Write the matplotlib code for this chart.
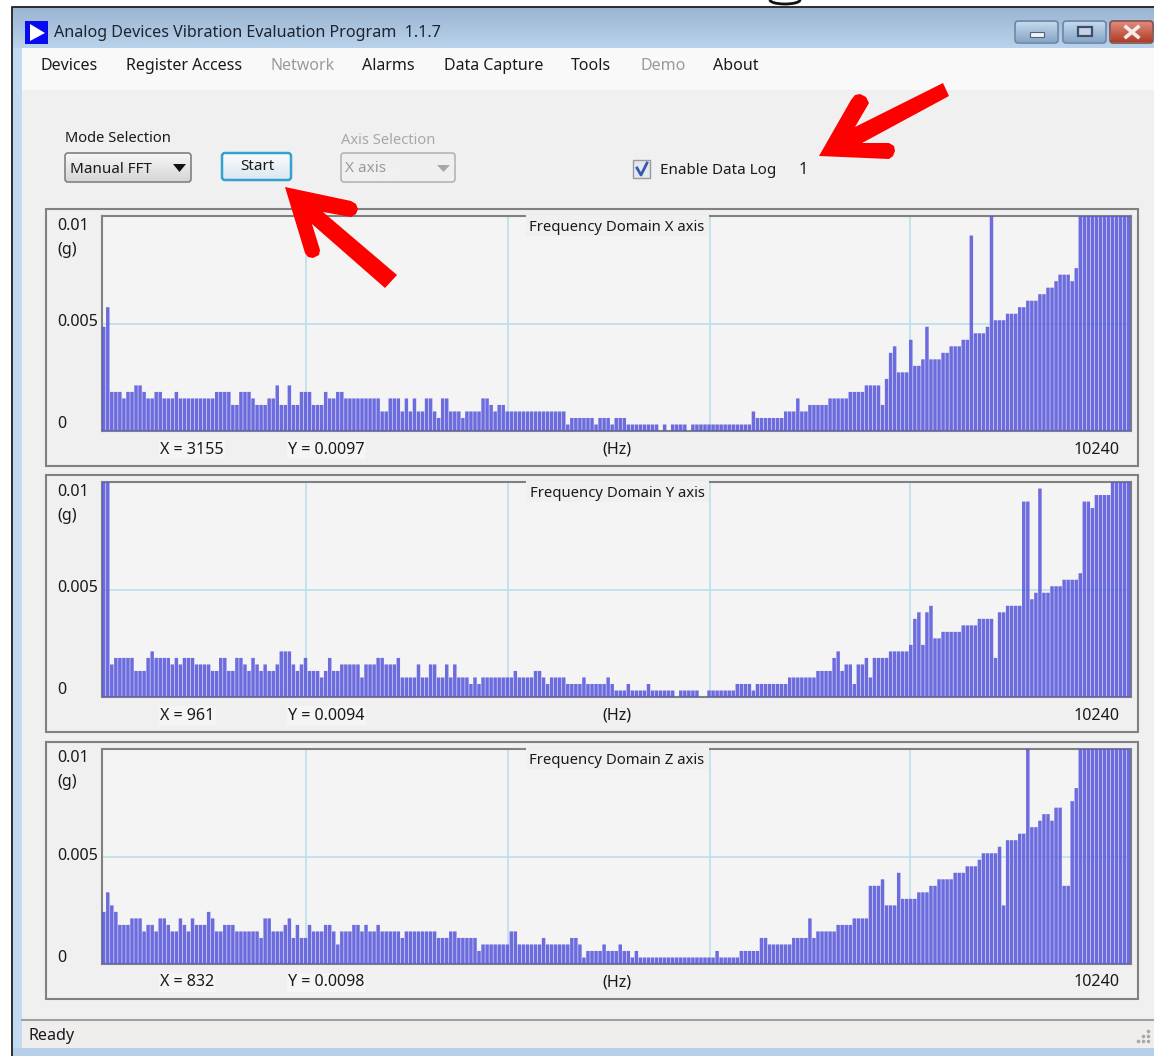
import matplotlib
matplotlib.use("Agg")
import matplotlib.pyplot as plt
from matplotlib.patches import Rectangle, Polygon, FancyBboxPatch, Arc
import numpy as np

plt.rcParams['font.family'] = ['Noto Sans', 'DejaVu Sans']

# FFT magnitude per bin in display codes, 33 codes is where the plot clips at 0.01 g
x_axis_codes = [
    16, 19, 6, 6, 6, 5, 6, 6, 7, 7,
    6, 5, 5, 6, 6, 5, 5, 5, 6, 5,
    5, 5, 5, 5, 5, 5, 5, 5, 6, 6,
    6, 6, 4, 4, 6, 6, 6, 5, 4, 4,
    4, 5, 5, 7, 4, 4, 7, 4, 4, 6,
    6, 6, 4, 4, 4, 6, 5, 5, 6, 6,
    5, 5, 5, 5, 5, 5, 5, 5, 5, 3,
    3, 5, 5, 5, 3, 5, 3, 5, 3, 3,
    5, 5, 3, 2, 5, 5, 3, 3, 3, 2,
    3, 3, 3, 3, 5, 5, 4, 3, 4, 4,
    3, 3, 3, 3, 3, 3, 3, 3, 3, 3,
    3, 3, 3, 3, 3, 1, 2, 2, 2, 2,
    2, 2, 1, 2, 2, 2, 1, 2, 2, 2,
    1, 1, 1, 1, 1, 1, 1, 1, 0, 1,
    0, 1, 1, 1, 1, 0, 1, 1, 1, 1,
    1, 1, 1, 1, 1, 1, 1, 1, 1, 1,
    1, 3, 2, 2, 2, 2, 2, 2, 2, 3,
    3, 3, 5, 3, 3, 4, 4, 4, 4, 4,
    5, 5, 5, 5, 5, 6, 6, 6, 6, 7,
    7, 7, 7, 4, 8, 12, 13, 9, 9, 9,
    14, 10, 10, 11, 16, 11, 11, 11, 12, 12,
    13, 13, 13, 14, 14, 30, 15, 15, 15, 16,
    33, 17, 17, 17, 18, 18, 18, 19, 19, 20,
    20, 20, 21, 21, 22, 22, 23, 24, 24, 24,
    23, 25, 33, 33, 33, 33, 33, 33, 33, 33,
    33, 33, 33, 33, 33]

y_axis_codes = [
    33, 33, 5, 6, 6, 6, 6, 6, 4, 4,
    4, 6, 7, 6, 6, 6, 6, 5, 6, 5,
    6, 6, 6, 5, 5, 5, 5, 4, 4, 6,
    6, 4, 4, 6, 6, 5, 4, 6, 5, 4,
    5, 4, 4, 5, 7, 7, 7, 5, 4, 5,
    6, 4, 4, 4, 3, 4, 6, 4, 4, 5,
    5, 5, 5, 5, 3, 5, 5, 5, 6, 6,
    5, 5, 5, 6, 3, 3, 3, 3, 5, 3,
    3, 5, 5, 3, 3, 5, 3, 5, 3, 3,
    3, 2, 3, 2, 3, 3, 3, 3, 3, 3,
    3, 3, 4, 3, 3, 3, 3, 4, 4, 3,
    2, 3, 3, 3, 3, 2, 2, 2, 2, 3,
    2, 2, 2, 2, 2, 3, 2, 1, 1, 1,
    2, 1, 1, 1, 1, 2, 1, 1, 1, 1,
    1, 1, 0, 1, 1, 1, 1, 1, 0, 0,
    1, 1, 1, 1, 1, 1, 1, 2, 2, 2,
    2, 1, 2, 2, 2, 2, 2, 2, 2, 2,
    3, 3, 3, 3, 3, 3, 3, 4, 4, 4,
    4, 6, 7, 4, 5, 5, 2, 5, 5, 6,
    3, 6, 6, 6, 6, 7, 7, 7, 7, 7,
    8, 12, 13, 8, 13, 14, 9, 9, 10, 10,
    10, 10, 10, 11, 11, 11, 11, 12, 12, 12,
    12, 6, 13, 13, 14, 14, 14, 14, 30, 30,
    15, 16, 32, 16, 16, 17, 17, 17, 18, 18,
    18, 18, 19, 30, 30, 29, 31, 31, 31, 31,
    33, 33, 33, 33, 33]

z_axis_codes = [
    8, 11, 9, 8, 6, 6, 6, 7, 7, 7,
    5, 6, 6, 5, 7, 7, 6, 5, 5, 7,
    6, 5, 7, 6, 6, 6, 8, 7, 5, 5,
    6, 6, 6, 5, 5, 5, 5, 5, 5, 4,
    7, 7, 5, 5, 5, 6, 7, 4, 6, 4,
    4, 6, 5, 5, 5, 6, 6, 5, 3, 5,
    5, 5, 6, 6, 5, 6, 5, 5, 6, 5,
    5, 5, 5, 5, 4, 5, 5, 5, 5, 5,
    5, 5, 5, 4, 4, 4, 5, 5, 4, 4,
    4, 4, 4, 2, 3, 3, 3, 3, 3, 3,
    3, 5, 5, 3, 3, 3, 3, 3, 3, 4,
    3, 3, 3, 3, 3, 3, 4, 4, 3, 1,
    2, 2, 2, 2, 3, 2, 2, 2, 3, 2,
    2, 1, 2, 1, 1, 1, 1, 1, 1, 1,
    1, 1, 1, 1, 1, 1, 1, 1, 1, 1,
    1, 1, 2, 1, 1, 1, 1, 1, 2, 2,
    2, 2, 2, 4, 4, 3, 3, 3, 3, 3,
    3, 4, 4, 4, 4, 7, 4, 5, 5, 5,
    5, 5, 6, 6, 6, 6, 7, 7, 7, 7,
    12, 12, 12, 13, 9, 9, 9, 14, 10, 10,
    10, 10, 11, 11, 11, 12, 12, 13, 13, 13,
    13, 14, 14, 14, 15, 15, 15, 16, 17, 17,
    17, 17, 18, 9, 19, 19, 19, 20, 20, 33,
    21, 21, 22, 23, 23, 22, 24, 24, 12, 12,
    25, 27, 33, 33, 33, 33, 33, 33, 33, 33,
    33, 33, 33, 33, 33]

g_per_code = 0.01 / 33
freq_max = 10240
grid_hz = [2030, 4040, 6050, 8045]
panel_names = ["X", "Y", "Z"]
panel_tops = [209, 475, 742]
readout_x = ["X = 3155", "X = 961", "X = 832"]
readout_y = ["Y = 0.0097", "Y = 0.0094", "Y = 0.0098"]
menu_items = ["Devices", "Register Access", "Network", "Alarms", "Data Capture", "Tools", "Demo", "About"]
menu_x = [41, 126, 270.5, 362.5, 444, 570.5, 640, 713]
menu_disabled = ["Network", "Demo"]

W, H = 1154, 1056
fig = plt.figure(figsize=(W / 100, H / 100), dpi=100, facecolor='white')

# window chrome is drawn on one axes in screen pixels
bg = fig.add_axes([0, 0, 1, 1])
bg.set_axis_off()


def txt(x, y, s, size=11.6, color='#1a1a1a', ha='left', **kw):
    bg.text(x, y + 1.5, s, fontsize=size, color=color, ha=ha, va='center', **kw)


def rect(x0, y0, x1, y1, fc, ec='none', lw=0, z=1):
    bg.add_patch(Rectangle((x0, y0), x1 - x0, y1 - y0, fc=fc, ec=ec, lw=lw, zorder=z))


def gradient(x0, y0, x1, y1, top, bottom, z=1):
    c0 = np.array(matplotlib.colors.to_rgb(top))
    c1 = np.array(matplotlib.colors.to_rgb(bottom))
    t = np.linspace(0, 1, 64)[:, None, None]
    img = c0[None, None, :] * (1 - t) + c1[None, None, :] * t
    bg.imshow(img, extent=(x0, x1, y1, y0), aspect='auto', zorder=z, interpolation='bilinear')


def button(x0, y0, x1, y1, top, bottom, ec, lw=1.2):
    gradient(x0 + 1, y0 + 1, x1 - 1, y1 - 1, top, bottom, z=3)
    bg.add_patch(FancyBboxPatch((x0, y0), x1 - x0, y1 - y0, boxstyle="round,pad=0,rounding_size=3",
                                fc='none', ec=ec, lw=lw, zorder=4))


# frame and title bar
rect(11, 6, W, H, '#b5d0e8')
gradient(13, 7, W, 48, '#9ab4d2', '#b9d3ec')
rect(13, 48, 22, 1048, '#c3dbf0', z=2)
bg.plot([11.5, 11.5, W], [H, 6.5, 6.5], color='#222222', lw=1.3, zorder=5)
rect(22, 48, W, 1048, '#f0f0f0', z=2)
rect(22, 48, W, 90, '#f9f9f9', z=2)
bg.add_patch(Arc((785, 0), 30, 8, theta1=0, theta2=180, color='#111111', lw=2, zorder=6))

# title icon
rect(25, 21, 48, 44, '#0a0af0', z=3)
bg.add_patch(Polygon([(30, 24), (45, 33), (30, 41)], fc='white', zorder=4))
txt(54, 31.5, "Analog Devices Vibration Evaluation Program  1.1.7", size=11.6, color='#20242c', zorder=5)

# caption buttons
button(1015, 21, 1058, 43, '#c4d8ec', '#86a6c8', '#6d86a5')
button(1063, 21, 1106, 43, '#c4d8ec', '#86a6c8', '#6d86a5')
button(1110, 21, 1153, 43, '#dd8a78', '#b03c28', '#8a4a44')
rect(1030, 32, 1044, 37, '#eef3f8', ec='#50627a', lw=0.8, z=6)
rect(1078, 27, 1092, 36, '#c4d4e6', ec='#3e4e66', lw=1.6, z=6)
bg.plot([1126, 1138], [27, 37], color='#f2ecec', lw=2.6, zorder=6)
bg.plot([1126, 1138], [37, 27], color='#f2ecec', lw=2.6, zorder=6)

# menu
for name, mx in zip(menu_items, menu_x):
    txt(mx, 65, name, size=11.5, color='#9a9a9a' if name in menu_disabled else '#1a1a1a', zorder=5)

# mode controls
txt(65, 137, "Mode Selection", size=10.6, zorder=5)
button(65, 153, 191, 182, '#f6f6f6', '#d6d6d6', '#808080')
txt(70, 168, "Manual FFT", size=10.9, zorder=5)
bg.add_patch(Polygon([(173, 164), (186, 164), (179.5, 172)], fc='#111111', zorder=5))
button(222, 153, 291, 180, '#f8fbfd', '#dce8f0', '#35a0d2', lw=1.8)
txt(257, 165, "Start", size=11, ha='center', zorder=5)
txt(341, 139, "Axis Selection", size=10.6, color='#a8a8a8', zorder=5)
button(341, 153, 455, 182, '#f0f0f0', '#f0f0f0', '#b4b4b4')
txt(345, 167, "X axis", color='#9a9a9a', size=11, zorder=5)
bg.add_patch(Polygon([(437, 165), (450, 165), (443.5, 172)], fc='#a8a8a8', zorder=5))
rect(633, 160, 650, 178, '#e4e8f0', ec='#9a9a9a', lw=1, z=3)
bg.plot([637, 641, 647], [168, 175, 163], color='#3858b0', lw=2, zorder=5)
txt(660, 169, "Enable Data Log", size=10.9, zorder=5)
txt(799, 169, "1", zorder=5)

# three spectrum panels
series = [x_axis_codes, y_axis_codes, z_axis_codes]
bin_hz = freq_max / len(x_axis_codes)
for i in range(3):
    top = panel_tops[i]
    rect(46, top, 1138, top + 257, '#f0f0f0', ec='#808080', lw=1.5, z=2)
    off = top - 209
    txt(57, 224 + off, "0.01", zorder=5)
    txt(57, 248 + off, "(g)", zorder=5)
    txt(57, 321 + off, "0.005", zorder=5)
    txt(57, 423 + off, "0", zorder=5)
    for rx, s in ((160, readout_x[i]), (288, readout_y[i])):
        txt(rx, 448 + off, s, zorder=5, bbox=dict(fc='#f5f5f5', ec='none', pad=1))
    txt(617, 448 + off, "(Hz)", ha='center', zorder=5)
    txt(1120, 448 + off, "10240", ha='right', zorder=5)

    ax = fig.add_axes([102 / W, 1 - (top + 222) / H, (1131 - 102) / W, 215 / H], facecolor='#f4f4f4')
    freqs = np.arange(len(series[i])) * bin_hz
    bars = ax.bar(freqs, np.array(series[i]) * g_per_code, width=bin_hz * 0.86, align='edge',
                  color='#5656dc', alpha=0.86, linewidth=0, zorder=3)
    for b in bars:
        b.set_snap(False)
    ax.set_xlim(0, freq_max)
    ax.set_ylim(0, 0.01)
    ax.set_xticks(grid_hz)
    ax.set_yticks([0.005])
    ax.tick_params(length=0, labelbottom=False, labelleft=False)
    ax.grid(True, color='#bcdfe8', lw=1.2, zorder=2)
    ax.set_axisbelow(True)
    for sp in ax.spines.values():
        sp.set_color('#808080')
        sp.set_linewidth(1.5)
    # caption sits in a notch cut out of the plot frame
    notch = Rectangle((526, top + 6), 183, 21, fc='#f0f0f0', ec='none', zorder=10,
                      transform=bg.transData)
    fig.add_artist(notch)
    fig.text(617 / W, 1 - (227.5 + off) / H, "Frequency Domain %s axis" % panel_names[i],
             fontsize=10.7, color='#1a1a1a', ha='center', va='center', zorder=11)

# status bar
rect(22, 1020, W, 1048, '#f0eded', z=3)
bg.plot([22, W], [1020, 1020], color='#a0a0a0', lw=1.5, zorder=4)
txt(28, 1035, "Ready", zorder=5)
grip_x = [1148, 1143, 1148, 1138, 1143, 1148]
grip_y = [1031, 1036, 1036, 1041, 1041, 1041]
bg.scatter(grip_x, grip_y, s=2.5, color='#a8a8a8', zorder=5)

# red call-out arrows, above the panels
arrow_a = [(819, 156), (851, 100), (855, 95), (860, 94), (866, 97), (869, 103), (855, 127), (943, 83), (949, 96),
           (862, 143), (889, 143), (894, 146), (895, 151), (893, 156), (889, 159)]
arrow_b = [(285, 187), (351, 201), (356, 204), (358, 209), (356, 214), (351, 217), (323, 212), (397, 275), (385, 288),
           (312, 224), (320, 250), (319, 255), (313, 258), (308, 257), (305, 253)]
for pts in (arrow_a, arrow_b):
    fig.add_artist(Polygon(pts, fc='#ff0000', ec='none', zorder=20, transform=bg.transData))

bg.set_xlim(0, W)
bg.set_ylim(H, 0)

fig.savefig('out.png', dpi=100, facecolor='white')
